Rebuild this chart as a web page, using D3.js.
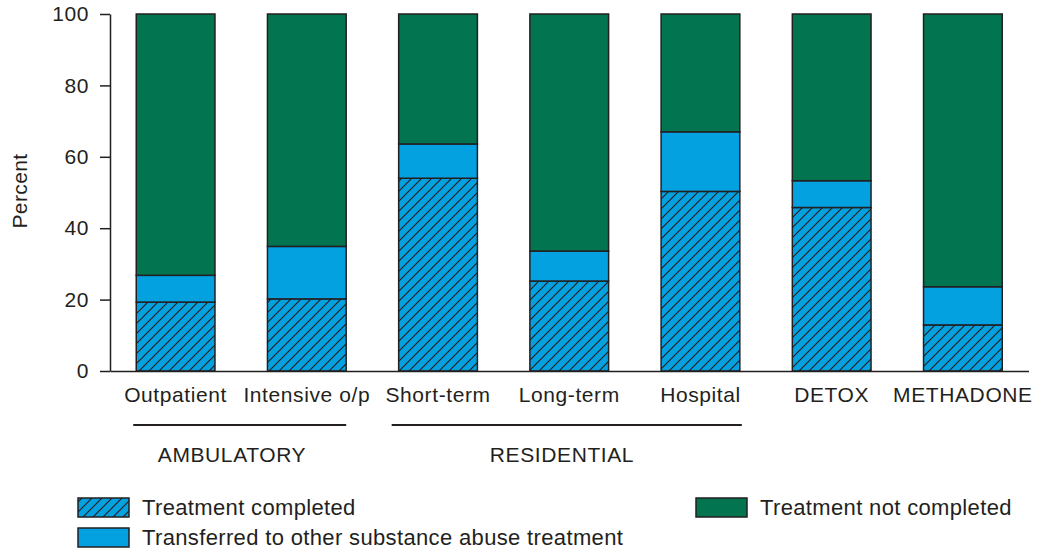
<!DOCTYPE html>
<html>
<head>
<meta charset="utf-8">
<script src="https://cdn.jsdelivr.net/npm/d3@7"></script>
<style>
  html, body { margin: 0; padding: 0; background: #fff; }
  svg { display: block; font-family: "Liberation Sans", Arial, Helvetica, sans-serif; }
</style>
</head>
<body>
<svg id="chart" width="1039" height="552"></svg>
<script>
// ---- data ----
const categories = ["Outpatient", "Intensive o/p", "Short-term", "Long-term", "Hospital", "DETOX", "METHADONE"];
const completed   = [19.3, 20.2, 54.0, 25.2, 50.3, 45.8, 12.9];
const transferred = [7.5, 14.7, 9.6, 8.4, 16.7, 7.5, 10.7];
const notCompleted = [73.2, 65.1, 36.4, 66.4, 33.0, 46.7, 76.4];
const yTicks = [0, 20, 40, 60, 80, 100];
const groups = [
  { name: "AMBULATORY", first: "Outpatient", last: "Intensive o/p" },
  { name: "RESIDENTIAL", first: "Short-term", last: "Hospital" }
];
const seriesNames = ["Treatment completed", "Transferred to other substance abuse treatment", "Treatment not completed"];

// ---- styles ----
const GREEN = "#037450", BLUE = "#04A1E1", INK = "#231F20";

const svg = d3.select("#chart");
const defs = svg.append("defs");
const pat = defs.append("pattern")
  .attr("id", "hatch").attr("patternUnits", "userSpaceOnUse")
  .attr("width", 10).attr("height", 10);
pat.append("rect").attr("width", 10).attr("height", 10).attr("fill", BLUE);
pat.append("path")
  .attr("d", "M0,10 L10,0 M-2.5,2.5 L2.5,-2.5 M7.5,12.5 L12.5,7.5")
  .attr("stroke", INK).attr("stroke-width", 1.2);

const x = d3.scaleBand().domain(categories).range([110, 1028.5])
  .paddingInner(0.4).paddingOuter(0.2);
const y = d3.scaleLinear().domain([0, 100]).range([371, 14]);

const rows = categories.map((c, i) => ({ cat: c, vals: [completed[i], transferred[i], notCompleted[i]] }));
const stack = d3.stack().keys([0, 1, 2]).value((d, k) => d.vals[k]);
const stacked = stack(rows);
const fills = ["url(#hatch)", BLUE, GREEN];

// bars
stacked.forEach((layer, k) => {
  svg.append("g").selectAll("rect").data(layer).join("rect")
    .attr("x", d => x(d.data.cat))
    .attr("width", x.bandwidth())
    .attr("y", d => y(Math.min(d[1], 100)))
    .attr("height", d => y(d[0]) - y(Math.min(d[1], 100)))
    .attr("fill", fills[k])
    .attr("stroke", INK).attr("stroke-width", 1.5);
});

// y axis
const yAxis = svg.append("g").attr("transform", "translate(110,0)")
  .call(d3.axisLeft(y).tickValues(yTicks).tickSize(10).tickPadding(11).tickSizeOuter(0));
yAxis.select(".domain").attr("stroke", INK).attr("stroke-width", 1.5);
yAxis.selectAll(".tick line").attr("stroke", INK).attr("stroke-width", 1.5);
yAxis.selectAll(".tick text").attr("font-size", 21).attr("fill", INK)
  .attr("font-family", "'Liberation Sans', Arial, sans-serif").style("letter-spacing", "0.6px");

// x axis baseline
const xAxis = svg.append("g").attr("transform", "translate(0,371)")
  .call(d3.axisBottom(x).tickSize(0).tickPadding(0).tickSizeOuter(0));
xAxis.select(".domain").attr("stroke", INK).attr("stroke-width", 1.5);
xAxis.selectAll(".tick text").attr("font-size", 21).attr("fill", INK)
  .attr("font-family", "'Liberation Sans', Arial, sans-serif")
  .attr("y", 31).attr("dy", 0).style("letter-spacing", "0.6px");

// y title
svg.append("text").attr("transform", "translate(27,191) rotate(-90)")
  .attr("text-anchor", "middle").attr("font-size", 21).attr("fill", INK)
  .style("letter-spacing", "0.4px").text("Percent");

// group underlines and labels
const gOff = { "AMBULATORY": [-3, 0, 232], "RESIDENTIAL": [-7, 2, 562] };
groups.forEach(g => {
  const o = gOff[g.name];
  const x0 = x(g.first) + o[0], x1 = x(g.last) + x.bandwidth() + o[1];
  svg.append("line").attr("x1", x0).attr("x2", x1).attr("y1", 425).attr("y2", 425)
    .attr("stroke", INK).attr("stroke-width", 2);
  svg.append("text").attr("x", o[2]).attr("y", 462).attr("text-anchor", "middle")
    .attr("font-size", 21).attr("fill", INK).style("letter-spacing", "0.6px").text(g.name);
});

// legend
const legendPos = [[78, 498], [78, 528], [696, 498]];
const legendFills = ["url(#hatch)", BLUE, GREEN];
seriesNames.forEach((name, i) => {
  const [lx, ly] = legendPos[i];
  svg.append("rect").attr("x", lx).attr("y", ly).attr("width", 51).attr("height", 19)
    .attr("fill", legendFills[i]).attr("stroke", INK).attr("stroke-width", 1.5);
  svg.append("text").attr("x", lx + 64).attr("y", ly + 17)
    .attr("font-size", 22).attr("fill", INK).style("letter-spacing", "0.35px").text(name);
});
</script>
</body>
</html>
